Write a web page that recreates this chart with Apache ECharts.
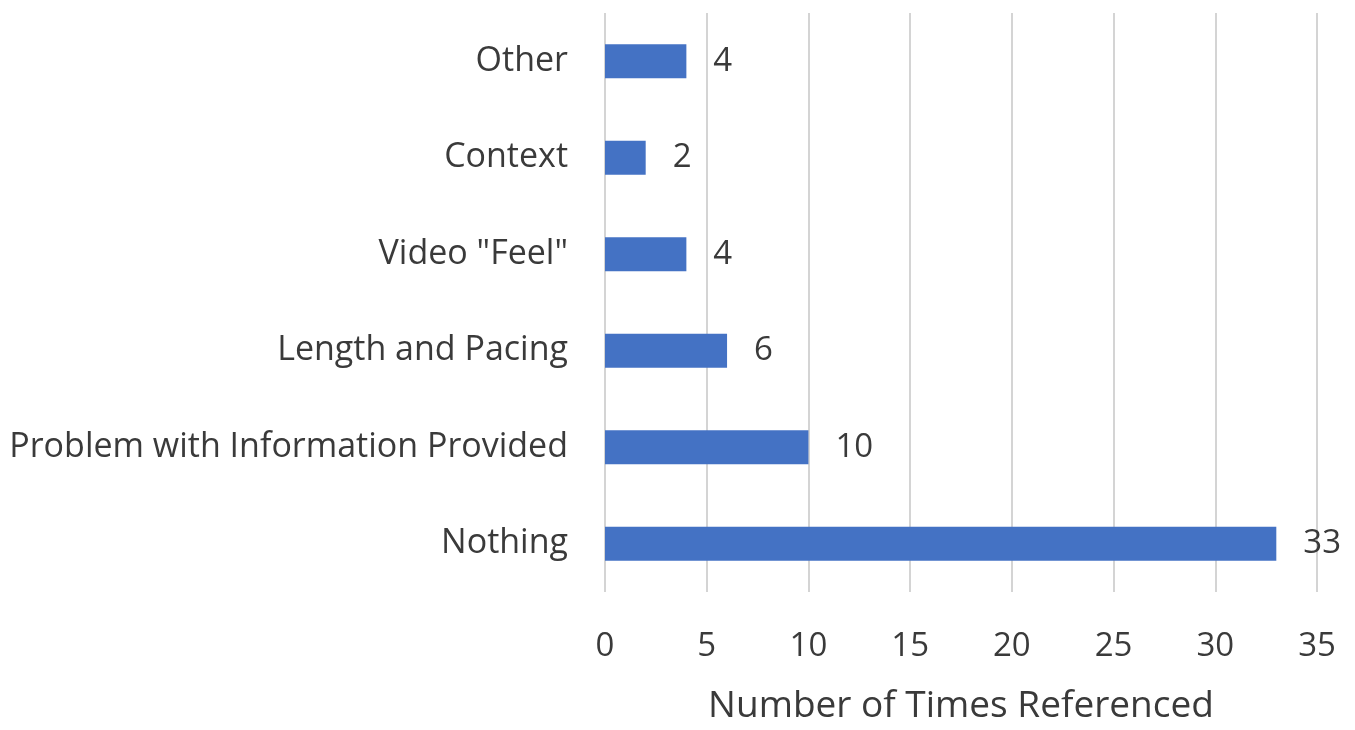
<!DOCTYPE html>
<html>
<head>
<meta charset="utf-8">
<style>
  html, body { margin: 0; padding: 0; background: #ffffff; }
  #chart { width: 1355px; height: 730px; }
</style>
<script src="https://cdn.jsdelivr.net/npm/echarts@6/dist/echarts.min.js"></script>
</head>
<body>
<div id="chart"></div>
<script>
// Feedback categories, listed bottom to top as drawn on the category axis
const categories = [
  'Nothing',
  'Problem with Information Provided',
  'Length and Pacing',
  'Video "Feel"',
  'Context',
  'Other'
];
const counts = [33, 10, 6, 4, 2, 4];
const xTicks = { min: 0, max: 35, interval: 5 };
const xAxisTitle = 'Number of Times Referenced';

const FONT = '"Open Sans", "Noto Sans", sans-serif';
const TEXT = '#3a3a3a';

const chart = echarts.init(document.getElementById('chart'), null, { renderer: 'canvas' });
chart.setOption({
  animation: false,
  backgroundColor: '#ffffff',
  grid: {
    left: 605, right: 38, top: 13, bottom: 138,
    containLabel: false,
    outerBoundsMode: 'none'
  },
  xAxis: {
    type: 'value',
    min: xTicks.min,
    max: xTicks.max,
    interval: xTicks.interval,
    name: xAxisTitle,
    nameLocation: 'middle',
    nameGap: 96,
    nameTextStyle: { fontFamily: FONT, fontSize: 37, color: TEXT },
    axisLine: { show: false },
    axisTick: { show: false },
    axisLabel: { margin: 38, fontFamily: FONT, fontSize: 33, color: TEXT },
    splitLine: { show: true, lineStyle: { color: '#d4d4d4', width: 2 } }
  },
  yAxis: {
    type: 'category',
    data: categories,
    axisLine: { show: false },
    axisTick: { show: false },
    axisLabel: { margin: 37, fontFamily: FONT, fontSize: 34, color: TEXT },
    splitLine: { show: false }
  },
  series: [{
    type: 'bar',
    data: counts,
    barWidth: 34,
    itemStyle: { color: '#4472c4' },
    label: {
      show: true,
      position: 'right',
      distance: 27,
      fontFamily: FONT,
      fontSize: 33,
      color: TEXT
    }
  }]
});
</script>
</body>
</html>
